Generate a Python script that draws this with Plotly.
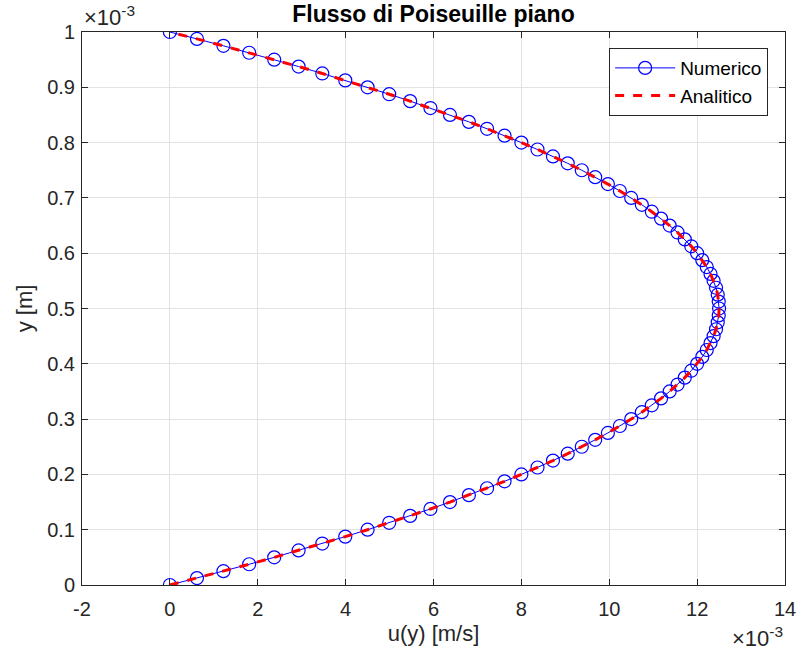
import plotly.graph_objects as go

# Channel height coordinate (x 1e-3 m) at the 81 grid nodes
y_nodes = [
    0.0, 0.0125, 0.025, 0.0375, 0.05, 0.0625, 0.075, 0.0875, 0.1, 0.1125,
    0.125, 0.1375, 0.15, 0.1625, 0.175, 0.1875, 0.2, 0.2125, 0.225, 0.2375,
    0.25, 0.2625, 0.275, 0.2875, 0.3, 0.3125, 0.325, 0.3375, 0.35, 0.3625,
    0.375, 0.3875, 0.4, 0.4125, 0.425, 0.4375, 0.45, 0.4625, 0.475, 0.4875,
    0.5, 0.5125, 0.525, 0.5375, 0.55, 0.5625, 0.575, 0.5875, 0.6, 0.6125,
    0.625, 0.6375, 0.65, 0.6625, 0.675, 0.6875, 0.7, 0.7125, 0.725, 0.7375,
    0.75, 0.7625, 0.775, 0.7875, 0.8, 0.8125, 0.825, 0.8375, 0.85, 0.8625,
    0.875, 0.8875, 0.9, 0.9125, 0.925, 0.9375, 0.95, 0.9625, 0.975, 0.9875,
    1.0,
]

# Numerical velocity u(y) (x 1e-3 m/s)
u_numerico = [
    0.0, 0.617, 1.219, 1.805, 2.375, 2.930, 3.469, 3.992, 4.500, 4.992,
    5.469, 5.930, 6.375, 6.805, 7.219, 7.617, 8.000, 8.367, 8.719, 9.055,
    9.375, 9.680, 9.969, 10.242, 10.500, 10.742, 10.969, 11.180, 11.375, 11.555,
    11.719, 11.867, 12.000, 12.117, 12.219, 12.305, 12.375, 12.430, 12.469, 12.492,
    12.500, 12.492, 12.469, 12.430, 12.375, 12.305, 12.219, 12.117, 12.000, 11.867,
    11.719, 11.555, 11.375, 11.180, 10.969, 10.742, 10.500, 10.242, 9.969, 9.680,
    9.375, 9.055, 8.719, 8.367, 8.000, 7.617, 7.219, 6.805, 6.375, 5.930,
    5.469, 4.992, 4.500, 3.992, 3.469, 2.930, 2.375, 1.805, 1.219, 0.617,
    0.0,
]

# Analytical velocity profile (x 1e-3 m/s)
u_analitico = [
    0.0, 0.617, 1.219, 1.805, 2.375, 2.930, 3.469, 3.992, 4.500, 4.992,
    5.469, 5.930, 6.375, 6.805, 7.219, 7.617, 8.000, 8.367, 8.719, 9.055,
    9.375, 9.680, 9.969, 10.242, 10.500, 10.742, 10.969, 11.180, 11.375, 11.555,
    11.719, 11.867, 12.000, 12.117, 12.219, 12.305, 12.375, 12.430, 12.469, 12.492,
    12.500, 12.492, 12.469, 12.430, 12.375, 12.305, 12.219, 12.117, 12.000, 11.867,
    11.719, 11.555, 11.375, 11.180, 10.969, 10.742, 10.500, 10.242, 9.969, 9.680,
    9.375, 9.055, 8.719, 8.367, 8.000, 7.617, 7.219, 6.805, 6.375, 5.930,
    5.469, 4.992, 4.500, 3.992, 3.469, 2.930, 2.375, 1.805, 1.219, 0.617,
    0.0,
]

x_ticks = [-2, 0, 2, 4, 6, 8, 10, 12, 14]
x_tick_text = ["-2", "0", "2", "4", "6", "8", "10", "12", "14"]
y_ticks = [0, 0.1, 0.2, 0.3, 0.4, 0.5, 0.6, 0.7, 0.8, 0.9, 1]
y_tick_text = ["0", "0.1", "0.2", "0.3", "0.4", "0.5", "0.6", "0.7", "0.8", "0.9", "1"]

FONT = "Liberation Sans, Arial, Helvetica, sans-serif"
AXIS_COLOR = "#262626"
GRID_COLOR = "#e3e3e3"

fig = go.Figure()

fig.add_trace(go.Scatter(
    x=u_numerico, y=y_nodes, name="Numerico",
    mode="lines+markers",
    line=dict(color="#0000ff", width=1),
    marker=dict(symbol="circle-open", size=13, color="#0000ff",
                line=dict(width=1.2, color="#0000ff")),
))

fig.add_trace(go.Scatter(
    x=u_analitico, y=y_nodes, name="Analitico",
    mode="lines",
    line=dict(color="#ff0000", width=3, dash="dash"),
))

axis_common = dict(
    showline=True, linecolor=AXIS_COLOR, linewidth=1, mirror="ticks",
    ticks="inside", ticklen=6, tickcolor=AXIS_COLOR, tickwidth=1,
    showgrid=True, gridcolor=GRID_COLOR, gridwidth=1,
    zeroline=False, automargin=False,
    tickfont=dict(family=FONT, size=20, color=AXIS_COLOR),
)

fig.update_xaxes(
    range=[-2, 14], tickmode="array", tickvals=x_ticks, ticktext=x_tick_text,
    ticklabelstandoff=6,
    title=dict(text="u(y) [m/s]", font=dict(family=FONT, size=22, color=AXIS_COLOR),
               standoff=6),
    **axis_common,
)
fig.update_yaxes(
    range=[0, 1], tickmode="array", tickvals=y_ticks, ticktext=y_tick_text,
    ticklabelstandoff=2,
    title=dict(text="y [m]", font=dict(family=FONT, size=22, color=AXIS_COLOR),
               standoff=8),
    **axis_common,
)

fig.update_layout(
    width=797, height=659,
    margin=dict(l=82, r=12, t=32, b=74),
    paper_bgcolor="white", plot_bgcolor="white",
    title=dict(text="<b>Flusso di Poiseuille piano</b>",
               font=dict(family=FONT, size=23, color="#000000"),
               x=(82 + 785) / 2 / 797, xanchor="center",
               y=1 - 14 / 659, yanchor="middle"),
    showlegend=True,
    legend=dict(
        x=0.976, y=0.971, xanchor="right", yanchor="top",
        bgcolor="white", bordercolor=AXIS_COLOR, borderwidth=1,
        font=dict(family=FONT, size=19, color="#000000"),
        itemwidth=60, tracegroupgap=0,
    ),
    annotations=[
        dict(text="\u00d710<sup>-3</sup>", xref="paper", yref="paper",
             x=0, y=1, xanchor="left", yanchor="bottom", yshift=0,
             showarrow=False, font=dict(family=FONT, size=22, color=AXIS_COLOR)),
        dict(text="\u00d710<sup>-3</sup>", xref="paper", yref="paper",
             x=1.0, y=0, xanchor="right", yanchor="top", yshift=-36,
             showarrow=False, font=dict(family=FONT, size=22, color=AXIS_COLOR)),
    ],
)

fig.write_html("out.html")
